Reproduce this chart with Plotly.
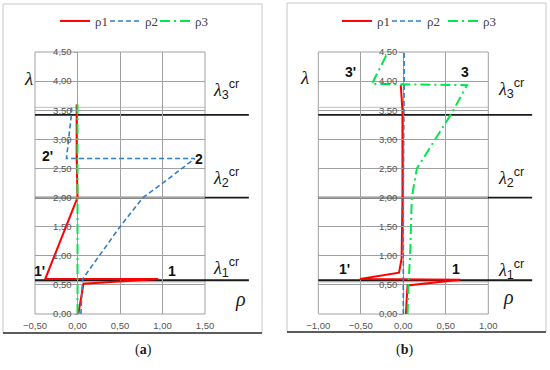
import plotly.graph_objects as go

# ---------------- data ----------------
# panel (a)
a_rho1_x = [0.01, 0.06, 0.07, 0.95, -0.38, 0.0, -0.01, -0.01]
a_rho1_y = [0.00, 0.42, 0.52, 0.60, 0.60, 2.00, 2.70, 3.60]
a_rho2_x = [0.04, 0.05, 0.06, 0.50, 0.77, 1.05, 1.38, -0.13, -0.07, -0.07]
a_rho2_y = [0.00, 0.45, 0.60, 1.50, 2.00, 2.30, 2.67, 2.67, 3.45, 3.60]
a_rho3_x = [0.0, 0.0, 0.0, 0.0]
a_rho3_y = [0.0, 1.0, 2.0, 3.6]

# panel (b)
b_rho1_x = [0.03, 0.05, 0.67, -0.51, -0.05, -0.02, -0.01, -0.01, -0.03]
b_rho1_y = [0.00, 0.49, 0.59, 0.60, 0.71, 0.95, 2.00, 3.50, 3.93]
b_rho2_x = [0.0, 0.0, 0.01, 0.01]
b_rho2_y = [0.0, 2.0, 4.0, 4.5]
b_rho3_x = [0.05, 0.06, 0.08, 0.10, 0.16, 0.57, 0.75, -0.37, -0.18]
b_rho3_y = [0.00, 0.50, 1.00, 2.00, 2.50, 3.45, 3.93, 3.95, 4.50]

lam_cr = [0.58, 2.0, 3.42]          # critical lambda levels
aux_levels = [0.55, 3.55]           # faint extra gridlines
a_xrange = [-0.5, 1.5]
b_xrange = [-1.0, 1.0]
yrange = [0, 4.5]
xticks = {"a": [-0.5, 0.0, 0.5, 1.0, 1.5], "b": [-1.0, -0.5, 0.0, 0.5, 1.0]}
yticks = [0, 0.5, 1.0, 1.5, 2.0, 2.5, 3.0, 3.5, 4.0, 4.5]

a_pt_labels = ["1'", "1", "2", "2'"]
a_pt_x = [-0.45, 1.11, 1.43, -0.35]
a_pt_y = [0.74, 0.74, 2.67, 2.71]
b_pt_labels = ["1'", "1", "3", "3'"]
b_pt_x = [-0.69, 0.62, 0.72, -0.62]
b_pt_y = [0.77, 0.77, 4.16, 4.16]

# ---------------- styling ----------------
RED = "#ff0000"
BLUE = "#2f7fc8"
GREEN = "#00e64d"
GRID = "#a0a0a0"
W, H = 550, 370

def px_x(p):
    return p / W

def px_y(p):
    return (H - p) / H

fig = go.Figure()

names = ["ρ1", "ρ2", "ρ3"]
styles = [dict(color=RED, width=2, dash="solid"),
          dict(color=BLUE, width=1.6, dash="5px,3px"),
          dict(color=GREEN, width=2, dash="10px,4px,2px,4px")]
legend_px = {"a": [50, 100, 150], "b": [332, 382, 438]}
legfont = dict(family="Liberation Serif", size=13, color="#404040")

legend_layout = {}
k = 1
for panel, xs, ys, xa, ya in [("a", [a_rho1_x, a_rho2_x, a_rho3_x], [a_rho1_y, a_rho2_y, a_rho3_y], "x", "y"),
                              ("b", [b_rho1_x, b_rho2_x, b_rho3_x], [b_rho1_y, b_rho2_y, b_rho3_y], "x2", "y2")]:
    for i in range(3):
        lname = "legend" if k == 1 else f"legend{k}"
        fig.add_trace(go.Scatter(x=xs[i], y=ys[i], mode="lines", name=names[i], line=styles[i],
                                 xaxis=xa, yaxis=ya, legend=lname))
        legend_layout[lname] = dict(orientation="h", x=px_x(legend_px[panel][i] + 5), y=px_y(21),
                                    xanchor="left", yanchor="middle", font=legfont,
                                    bgcolor="rgba(0,0,0,0)", itemwidth=30)
        k += 1

ydom = [px_y(314), px_y(52)]
xdom_a = [px_x(35), px_x(205)]
xdom_b = [px_x(318.3), px_x(488.3)]

tickfont = dict(family="Liberation Sans", size=9.5, color="#555555")

def xaxis(dom, rng, ticks, anchor):
    return dict(domain=dom, range=rng, tickvals=ticks, tickformat=".2f",
                showgrid=True, gridcolor=GRID, gridwidth=1, zeroline=False,
                showline=False, ticks="outside", ticklen=3, tickcolor="rgba(0,0,0,0)",
                tickfont=tickfont, anchor=anchor,
                fixedrange=True, automargin=False)

def yaxis(rng, xdom, xrng):
    pos = xdom[0] + (0 - xrng[0]) / (xrng[1] - xrng[0]) * (xdom[1] - xdom[0])
    return dict(domain=ydom, range=rng, tickvals=yticks, tickformat=".2f",
                showgrid=True, gridcolor=GRID, gridwidth=1, zeroline=False,
                showline=False,
                ticks="outside", ticklen=4, tickcolor=GRID,
                tickfont=tickfont, anchor="free", position=pos,
                fixedrange=True, automargin=False)

fig.update_layout(
    template="none",
    width=W, height=H, margin=dict(l=0, r=0, t=0, b=0, pad=0, autoexpand=False),
    paper_bgcolor="white", plot_bgcolor="white",
    separators=", ",
    xaxis=xaxis(xdom_a, a_xrange, xticks["a"], "y"),
    yaxis=yaxis(yrange, xdom_a, a_xrange),
    xaxis2=xaxis(xdom_b, b_xrange, xticks["b"], "y2"),
    yaxis2=yaxis(yrange, xdom_b, b_xrange),
    showlegend=True,
    **legend_layout,
)

shapes = []
# outer frames
for (x0, x1, y0, y1) in [(3, 262, 4, 333), (287, 546, 3, 332)]:
    shapes.append(dict(type="rect", xref="paper", yref="paper", x0=px_x(x0), x1=px_x(x1),
                       y0=px_y(y1), y1=px_y(y0), line=dict(color="#c8c8c8", width=1), layer="below"))
    shapes.append(dict(type="line", xref="paper", yref="paper", x0=px_x(x0), x1=px_x(x1),
                       y0=px_y(y1), y1=px_y(y1), line=dict(color="#303030", width=1.5)))

for xa, ya in [("x", "y"), ("x2", "y2")]:
    shapes.append(dict(type="rect", xref=f"{xa} domain", yref=f"{ya} domain", x0=0, x1=1, y0=0, y1=1,
                       line=dict(color=GRID, width=1), layer="below"))
    for lv in aux_levels:
        yy = (lv - yrange[0]) / (yrange[1] - yrange[0])
        shapes.append(dict(type="line", xref=f"{xa} domain", yref=f"{ya} domain", x0=0, x1=1,
                           y0=yy, y1=yy, line=dict(color="#c0c0c0", width=1), layer="below"))
    for lv in lam_cr:
        yy = (lv - yrange[0]) / (yrange[1] - yrange[0])
        shapes.append(dict(type="line", xref=f"{xa} domain", yref=f"{ya} domain", x0=0, x1=1.258,
                           y0=yy, y1=yy, line=dict(color="#1a1a1a", width=1.8), layer="below"))
fig.update_layout(shapes=shapes)

ann = []
LAM = "<span style=\"font-family:'Liberation Serif';font-style:italic\">λ</span>"
def lamcr(k):
    return LAM + f"<sub>{k}</sub><sup>cr</sup>"

for (x0, ys) in [(211, (89, 177, 267)), (496, (88, 177, 269))]:
    for kk, yy in zip((3, 2, 1), ys):
        ann.append(dict(text=lamcr(kk), x=px_x(x0), y=px_y(yy), xref="paper", yref="paper",
                        xanchor="left", yanchor="middle", showarrow=False,
                        font=dict(family="Liberation Sans", size=18, color="#1a1a1a")))
for (xx, yy) in [(22, 66), (304, 65)]:
    ann.append(dict(text="<i>λ</i>", x=px_x(xx), y=px_y(yy), xref="paper", yref="paper",
                    showarrow=False, font=dict(family="Liberation Serif", size=19, color="#1a1a1a")))
for (xx, yy) in [(240, 313), (516, 311)]:
    ann.append(dict(text="<i>ρ</i>", x=px_x(xx), y=px_y(yy), xref="paper", yref="paper",
                    showarrow=False, font=dict(family="Liberation Serif", size=20, color="#1a1a1a")))
for lab, xx in [("a", 133), ("b", 415)]:
    ann.append(dict(text=f"(<b>{lab}</b>)", x=px_x(xx), y=px_y(360), xref="paper", yref="paper",
                    showarrow=False, font=dict(family="Liberation Serif", size=14, color="#1a1a1a")))
for labs, xs, ys, xa, ya in [(a_pt_labels, a_pt_x, a_pt_y, "x", "y"), (b_pt_labels, b_pt_x, b_pt_y, "x2", "y2")]:
    for t, x, y in zip(labs, xs, ys):
        ann.append(dict(text=f"<b>{t}</b>", x=x, y=y, xref=xa, yref=ya, showarrow=False,
                        font=dict(family="Liberation Sans", size=14, color="#111111")))
fig.update_layout(annotations=ann)

fig.write_html("out.html", config={"displayModeBar": False},
               post_script="document.body.style.margin='0';")
